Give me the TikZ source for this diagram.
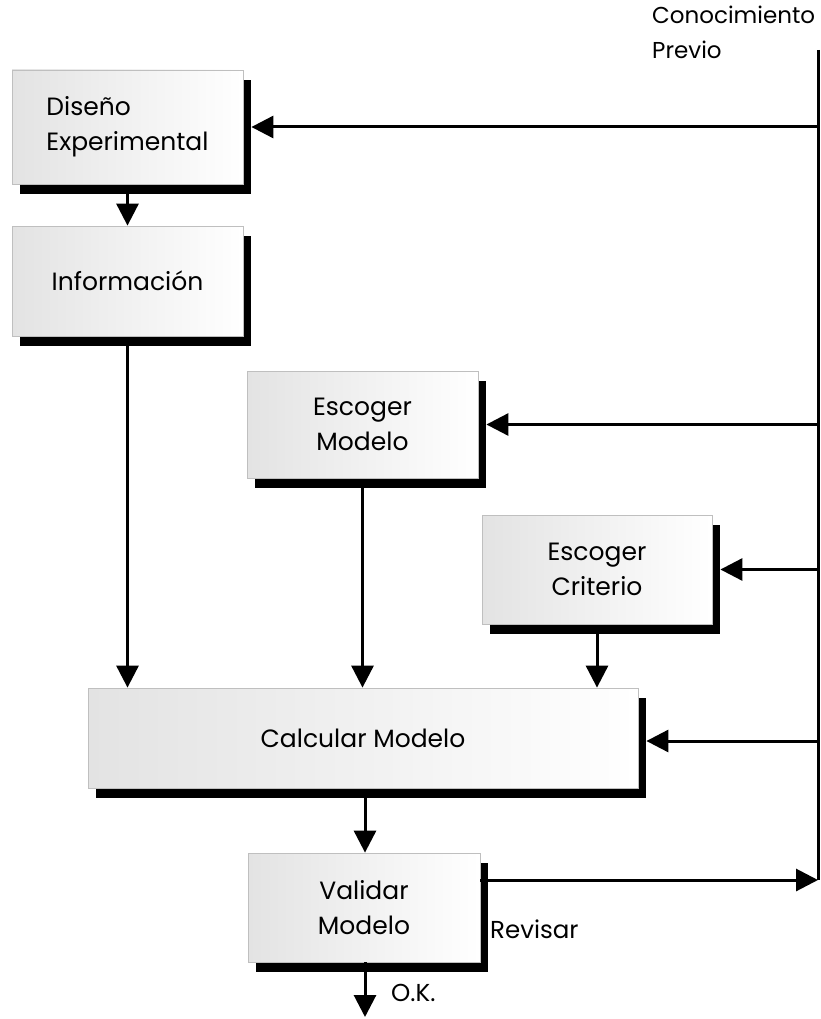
\documentclass[tikz,border=0pt]{standalone}
\usepackage{fontspec}
\setmainfont{Poppins}
\usetikzlibrary{arrows.meta}
\usetikzlibrary{shadows}
\usetikzlibrary{calc}

\begin{document}
\begin{tikzpicture}[x=1pt, y=-1pt,
paso/.style={draw=black!25, line width=.8pt, left color=black!11, right color=white,
  drop shadow={shadow xshift=8pt, shadow yshift=-10pt, fill=black, opacity=1},
  inner sep=0pt, font=\fontsize{25}{35}\selectfont},
flujo/.style={line width=3pt, -{Triangle[length=22pt, width=22pt]}},
rotulo/.style={font=\fontsize{24.5}{35}\selectfont, inner sep=0pt}]

\useasboundingbox (0,0) rectangle (821,1019);

%%%%%% CAJAS %%%%%%%%%%

\node [paso, minimum width=231pt, minimum height=114pt, align=left] (dis) at (127.5,127) {Diseño\\Experimental};
\node [paso, minimum width=231pt, minimum height=110pt] (inf) at (127.5,281) {Información};
\node [paso, minimum width=231pt, minimum height=107pt, align=center] (mod) at (362.5,424.5) {Escoger\\Modelo};
\node [paso, minimum width=230pt, minimum height=109pt, align=center] (cri) at (597,569.5) {Escoger\\Criterio};
\node [paso, minimum width=550pt, minimum height=100pt] (cal) at (363,738) {Calcular Modelo};
\node [paso, minimum width=232pt, minimum height=109pt, align=center] (val) at (364,907.5) {Validar\\Modelo};

%%%%%% CONOCIMIENTO PREVIO %%%%%%%%%%

\node [rotulo, font=\fontsize{23}{35}\selectfont, align=left, anchor=north west] (cp) at (652,6) {Conocimiento\\Previo};
\coordinate (arr) at (818,50);
\coordinate (rev) at (818,880);
\draw [line width=3pt] (arr) -- (rev);

\draw [flujo] (arr |- dis.east) -- ([xshift=8pt]dis.east);
\draw [flujo] (arr |- mod.east) -- ([xshift=8pt]mod.east);
\draw [flujo] (arr |- cri.east) -- ([xshift=8pt]cri.east);
\draw [flujo] ($(arr |- cal.east)+(0,3)$) -- ($(cal.east)+(8,3)$);

%%%%%% FLUJO %%%%%%%%%%

\draw [flujo] ([yshift=-10pt]dis.south) -- (inf.north);
\draw [flujo] ([yshift=-10pt]inf.south) -- (inf.south |- cal.north);
\draw [flujo] ([yshift=-10pt]mod.south) -- (mod.south |- cal.north);
\draw [flujo] ([yshift=-10pt]cri.south) -- (cri.south |- cal.north);
\draw [flujo] ($(cal.south)+(2,10)$) -- ($(val.north)+(1,0)$);

\coordinate (ok) at (365,1017);
\draw [flujo] (val.south -| ok) -- (ok);
\draw [flujo] (val.east |- rev) -- (rev);

\node [rotulo, anchor=west] (lrev) at (490,929) {Revisar};
\node [rotulo, anchor=west] (lok) at (391,993) {O.K.};

\end{tikzpicture}
\end{document}
